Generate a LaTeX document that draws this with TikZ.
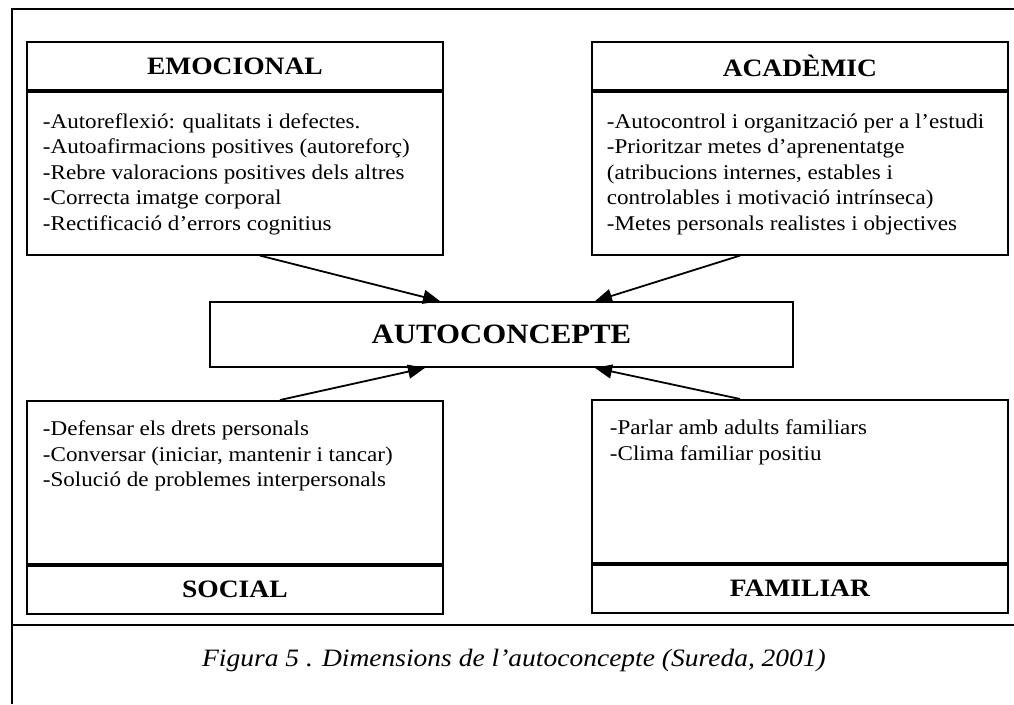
\documentclass[tikz,border=0pt]{standalone}
\usepackage{fontspec}
\setmainfont{Liberation Serif}[FakeStretch=1.1]
\usetikzlibrary{positioning,arrows.meta}

\begin{document}
\begin{tikzpicture}[x=1pt, y=-1pt, line width=1.8pt,
    head/.style={draw, minimum width=416pt, minimum height=48pt, inner sep=0pt, font=\fontsize{25}{28}\selectfont\bfseries},
    body/.style={draw, minimum width=416pt, minimum height=163pt, inner sep=0pt},
    items/.style={align=left, inner sep=0pt, font=\fontsize{21}{25.5}\selectfont},
    link/.style={-{Triangle[length=17pt, width=14pt]}, line width=1.8pt}]
    \useasboundingbox (0,0) rectangle (1014,704);

    % frame
    \draw (1014,9) -| (12,704);
    \draw (12,625) -- (1014,625);

    % top boxes
    \node [head, anchor=north west] (emo) at (26,41) {EMOCIONAL};
    \node [body, below=0pt of emo] (emo_body) {};
    \node [items, below right=22pt and 16pt of emo_body.north west] (emo_items) {-Autoreflexió: qualitats i defectes.\\-Autoafirmacions positives (autoreforç)\\-Rebre valoracions positives dels altres\\-Correcta imatge corporal\\-Rectificació d'errors cognitius};

    \node [head, anchor=north west] (aca) at (591,41) {ACADÈMIC};
    \node [body, below=0pt of aca] (aca_body) {};
    \node [items, below right=22pt and 15pt of aca_body.north west] (aca_items) {-Autocontrol i organització per a l'estudi\\-Prioritzar metes d'aprenentatge\\(atribucions internes, estables i\\controlables i motivació intrínseca)\\-Metes personals realistes i objectives};

    % centre
    \node [draw, minimum width=583pt, minimum height=65pt, font=\fontsize{28}{30}\selectfont\bfseries] (self) at (501.5,334.5) {AUTOCONCEPTE};

    % bottom boxes
    \node [body, anchor=north west] (soc_body) at (26,400) {};
    \node [head, below=0pt of soc_body] (soc) {SOCIAL};
    \node [items, below right=20pt and 16pt of soc_body.north west] (soc_items) {-Defensar els drets personals\\-Conversar (iniciar, mantenir i tancar)\\-Solució de problemes interpersonals};

    \node [body, anchor=north west] (fam_body) at (591,399) {};
    \node [head, below=0pt of fam_body] (fam) {FAMILIAR};
    \node [items, below right=20pt and 18pt of fam_body.north west] (fam_items) {-Parlar amb adults familiars\\-Clima familiar positiu};

    % arrows
    \draw [link] (emo_body.south west) ++(234,0) coordinate (emo_out) -- (self.north west -| 440,0);
    \draw [link] (aca_body.south west) ++(149,0) coordinate (aca_out) -- (self.north west -| 595,0);
    \draw [link] (soc_body.north west) ++(254,0) coordinate (soc_out) -- (self.south west -| 425,0);
    \draw [link] (fam_body.north west) ++(149,0) coordinate (fam_out) -- (self.south west -| 595,0);

    % caption
    \node [font=\fontsize{25}{28}\selectfont\itshape] (caption) at (514,660) {Figura 5 . Dimensions de l'autoconcepte (Sureda, 2001)};
\end{tikzpicture}
\end{document}
